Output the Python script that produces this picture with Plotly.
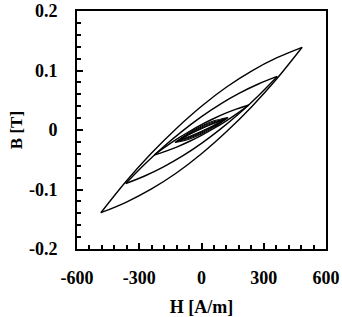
import plotly.graph_objects as go

# Loop 1 (largest)
H1 = [-485, -364, -243, -121, 0, 121, 243, 364, 485]
B1_upper = [-0.139, -0.0865, -0.0395, 0.0027, 0.040, 0.0723, 0.0995, 0.1215, 0.139]
B1_lower = [-0.139, -0.1215, -0.0995, -0.0723, -0.040, -0.0027, 0.0395, 0.0865, 0.139]

# Loop 2
H2 = [-365, -274, -183, -91, 0, 91, 183, 274, 365]
B2_upper = [-0.090, -0.0577, -0.0281, -0.0014, 0.0225, 0.0436, 0.0619, 0.0773, 0.090]
B2_lower = [-0.090, -0.0773, -0.0619, -0.0436, -0.0225, 0.0014, 0.0281, 0.0577, 0.090]

# Loop 3
H3 = [-228, -171, -114, -57, 0, 57, 114, 171, 228]
B3_upper = [-0.042, -0.0276, -0.0142, -0.0021, 0.009, 0.0189, 0.0278, 0.0354, 0.042]
B3_lower = [-0.042, -0.0354, -0.0278, -0.0189, -0.009, 0.0021, 0.0142, 0.0276, 0.042]

# Inner loops
H4 = [-128, -64, 0, 64, 128]
B4_upper = [-0.021, -0.0053, 0.0068, 0.0158, 0.021]
B4_lower = [-0.021, -0.0158, -0.0068, 0.0053, 0.021]

H5 = [-122, -61, 0, 61, 122]
B5_upper = [-0.0198, -0.0062, 0.0050, 0.0137, 0.0198]
B5_lower = [-0.0198, -0.0137, -0.0050, 0.0062, 0.0198]

H6 = [-114, -57, 0, 57, 114]
B6_upper = [-0.0183, -0.0065, 0.0034, 0.0118, 0.0183]
B6_lower = [-0.0183, -0.0118, -0.0034, 0.0065, 0.0183]

H7 = [-106, -53, 0, 53, 106]
B7_upper = [-0.0168, -0.0069, 0.0019, 0.0099, 0.0168]
B7_lower = [-0.0168, -0.0099, -0.0019, 0.0069, 0.0168]

x_ticks = [-600, -300, 0, 300, 600]
y_ticks = [-0.2, -0.1, 0, 0.1, 0.2]
x_tick_labels = ["-600", "-300", "0", "300", "600"]
y_tick_labels = ["-0.2", "-0.1", "0", "0.1", "0.2"]

loops = [
    (H1, B1_upper, B1_lower, 1.4),
    (H2, B2_upper, B2_lower, 1.4),
    (H3, B3_upper, B3_lower, 1.4),
    (H4, B4_upper, B4_lower, 1.1),
    (H5, B5_upper, B5_lower, 1.1),
    (H6, B6_upper, B6_lower, 1.1),
    (H7, B7_upper, B7_lower, 1.1),
]

fig = go.Figure()
for H, up, lo, w in loops:
    for B in (up, lo):
        fig.add_trace(go.Scatter(
            x=H, y=B, mode="lines",
            line=dict(color="black", width=w, shape="spline", smoothing=1.0),
            showlegend=False, hoverinfo="skip",
        ))

font_ticks = dict(family="Liberation Serif", size=18, color="black")

fig.update_layout(
    width=342, height=317,
    margin=dict(l=77, r=16, t=11, b=68),
    paper_bgcolor="white", plot_bgcolor="white",
    showlegend=False,
)

fig.update_xaxes(
    range=[-600, 600], tickvals=x_ticks, ticktext=["<b>%s</b>" % t for t in x_tick_labels],
    showgrid=False, zeroline=False, automargin=False,
    showline=True, mirror=True, linecolor="black", linewidth=2,
    ticks="inside", ticklen=6, tickwidth=2, tickcolor="black",
    minor=dict(dtick=60, tick0=0, ticks="inside", ticklen=4, tickwidth=2, tickcolor="black", showgrid=False),
    tickfont=font_ticks, ticklabelstandoff=11,
    title=dict(text="<b>H [A/m]</b>", font=dict(family="Liberation Serif", size=18, color="black"), standoff=20),
)
fig.update_yaxes(
    range=[-0.2, 0.2], tickvals=y_ticks, ticktext=["<b>%s</b>" % t for t in y_tick_labels],
    showgrid=False, zeroline=False, automargin=False,
    showline=True, mirror=True, linecolor="black", linewidth=2,
    ticks="inside", ticklen=6, tickwidth=2, tickcolor="black",
    minor=dict(dtick=0.02, tick0=0, ticks="inside", ticklen=4, tickwidth=2, tickcolor="black", showgrid=False),
    tickfont=font_ticks, ticklabelstandoff=14,
    title=dict(text="<b>B [T]</b>", font=dict(family="Liberation Serif", size=17, color="black"), standoff=2),
)

fig.write_html("out.html")
